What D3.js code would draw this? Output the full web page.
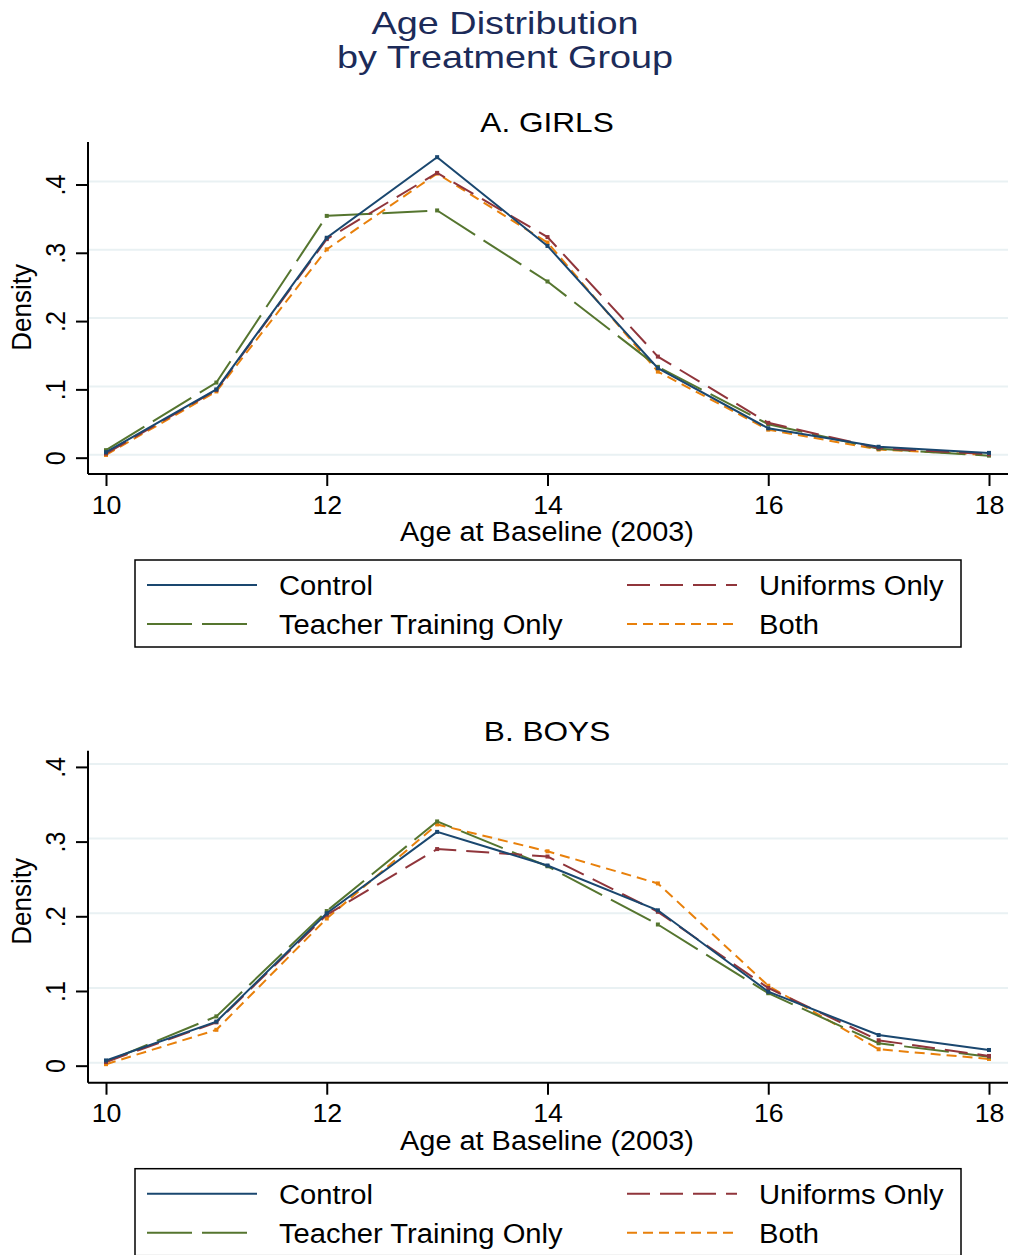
<!DOCTYPE html>
<html>
<head>
<meta charset='utf-8' />
<title>Age Distribution by Treatment Group</title>
<script src="https://d3js.org/d3.v7.min.js"></script>
<style>
body { margin: 0; padding: 0; background: #fff; }
#chart text { font-family: "Liberation Sans", Arial, Helvetica, sans-serif; fill: #000; }
</style>
</head>
<body>
<div id='chart'></div>
<script>

// ages on the x axis
var ages = [10, 11, 12, 13, 14, 15, 16, 17, 18];
var xTicks = [10, 12, 14, 16, 18];
var yTicks = [0, 0.1, 0.2, 0.3, 0.4];

var seriesNames = ["Control", "Uniforms Only", "Teacher Training Only", "Both"];

// panel A - girls
var girlsControl  = [0.008, 0.100, 0.322, 0.440, 0.310, 0.131, 0.043, 0.016, 0.007];
var girlsUniforms = [0.006, 0.099, 0.320, 0.417, 0.323, 0.148, 0.051, 0.014, 0.005];
var girlsTeacher  = [0.011, 0.110, 0.354, 0.362, 0.258, 0.133, 0.049, 0.013, 0.003];
var girlsBoth     = [0.004, 0.097, 0.305, 0.416, 0.315, 0.126, 0.041, 0.012, 0.004];

// panel B - boys
var boysControl  = [0.007, 0.059, 0.204, 0.313, 0.268, 0.208, 0.099, 0.041, 0.021];
var boysUniforms = [0.005, 0.058, 0.202, 0.290, 0.280, 0.206, 0.104, 0.034, 0.013];
var boysTeacher  = [0.005, 0.066, 0.207, 0.327, 0.267, 0.189, 0.097, 0.030, 0.012];
var boysBoth     = [0.002, 0.048, 0.197, 0.323, 0.287, 0.244, 0.107, 0.022, 0.009];

var W = 1011, H = 1255;

var svg = d3.select("#chart")
  .append("svg")
    .attr("width", W)
    .attr("height", H);

// stata s2color-ish styles
var styles = {
  "Control":               {color: "#1a476f", dash: null},
  "Uniforms Only":         {color: "#90353b", dash: "23,10"},
  "Teacher Training Only": {color: "#55752f", dash: "45,10"},
  "Both":                  {color: "#e8800b", dash: "10,6"}
};

// the original graph is a bit wider than tall, so text gets stretched sideways
function addText(parent, x, y, str, size, sx) {
  return parent.append("text")
    .attr("transform", "translate(" + x + "," + y + ") scale(" + sx + ",1)")
    .style("font-size", size + "px")
    .text(str);
}

//////////
// TITLE //
//////////

addText(svg, 505, 34, "Age Distribution", 31, 1.22)
  .attr("text-anchor", "middle")
  .style("fill", "#1c2b59");

addText(svg, 505, 68, "by Treatment Group", 31, 1.22)
  .attr("text-anchor", "middle")
  .style("fill", "#1c2b59");

//////////
// PANELS //
//////////

function drawPanel(top, title, yDomain, data) {

  var g = svg.append("g").attr("transform", "translate(0," + top + ")");

  // plot box: axis lines at x=88 and y=332 (relative)
  var left = 88, right = 1008, h = 332;

  var x = d3.scaleLinear().domain([10, 18]).range([106, 989]);
  var y = d3.scaleLinear().domain(yDomain).range([h, 0]);

  addText(g, 547, -10, title, 27, 1.17).attr("text-anchor", "middle");

  // gridlines (stata draws them a hair above the ticks)
  g.selectAll("grid")
    .data(yTicks)
    .enter()
    .append("line")
      .attr("x1", left + 1).attr("x2", right)
      .attr("y1", function(d) { return y(d) - 3; })
      .attr("y2", function(d) { return y(d) - 3; })
      .style("stroke", "#e9f1f3")
      .style("stroke-width", 2);

  // y axis
  var yAxis = g.append("g")
    .attr("transform", "translate(" + left + ",0)")
    .call(d3.axisLeft(y).tickValues(yTicks).tickSize(12).tickPadding(0)
      .tickFormat(function(d) { return d === 0 ? "0" : d3.format(".1f")(d).replace("0.", "."); }));
  yAxis.select(".domain").attr("d", "M0,0V" + h).style("stroke", "#000").style("stroke-width", 2);
  yAxis.selectAll(".tick line").style("stroke", "#000").style("stroke-width", 2);
  yAxis.selectAll(".tick text")
    .attr("x", 0).attr("y", 0)
    .attr("dy", null)
    .attr("text-anchor", "middle")
    .attr("transform", "translate(-23,0) scale(1.08,1) rotate(-90)")
    .style("font-size", "25px");

  g.append("text")
    .attr("transform", "translate(31," + y(0.22) + ") scale(1.08,1) rotate(-90)")
    .attr("text-anchor", "middle")
    .style("font-size", "26px")
    .text("Density");

  // x axis
  var xAxis = g.append("g")
    .attr("transform", "translate(0," + h + ")")
    .call(d3.axisBottom(x).tickValues(xTicks).tickSize(12).tickPadding(10).tickFormat(d3.format("d")));
  xAxis.select(".domain").attr("d", "M" + left + ",0H" + right).style("stroke", "#000").style("stroke-width", 2);
  xAxis.selectAll(".tick line").style("stroke", "#000").style("stroke-width", 2);
  xAxis.selectAll(".tick text")
    .attr("dy", "0.71em")
    .attr("transform", "scale(1.07,1)")
    .style("font-size", "25px");

  addText(g, 547, h + 67, "Age at Baseline (2003)", 27, 1.07).attr("text-anchor", "middle");

  // lines
  var line = d3.line()
    .x(function(d, i) { return x(ages[i]); })
    .y(function(d) { return y(d); });

  var order = ["Both", "Teacher Training Only", "Uniforms Only", "Control"];
  order.forEach(function(name) {
    var vals = data[name];
    var st = styles[name];
    g.append("path")
      .datum(vals)
      .attr("d", line)
      .style("fill", "none")
      .style("stroke", st.color)
      .style("stroke-width", 2)
      .style("stroke-dasharray", st.dash);
    g.selectAll("mk")
      .data(vals)
      .enter()
      .append("rect")
        .attr("x", function(d, i) { return x(ages[i]) - 2; })
        .attr("y", function(d) { return y(d) - 2; })
        .attr("width", 4).attr("height", 4)
        .style("fill", st.color);
  });

  //////////
  // LEGEND //
  //////////

  var lg = g.append("g").attr("transform", "translate(0," + (h + 86) + ")");
  lg.append("rect")
    .attr("x", 135).attr("y", 0)
    .attr("width", 826).attr("height", 87)
    .style("fill", "#fff")
    .style("stroke", "#000")
    .style("stroke-width", 1.5);

  var pos = {
    "Control":               [147, 25],
    "Uniforms Only":         [627, 25],
    "Teacher Training Only": [147, 64],
    "Both":                  [627, 64]
  };

  seriesNames.forEach(function(name) {
    var p = pos[name], st = styles[name];
    lg.append("line")
      .attr("x1", p[0]).attr("x2", p[0] + 110)
      .attr("y1", p[1]).attr("y2", p[1])
      .style("stroke", st.color)
      .style("stroke-width", 2)
      .style("stroke-dasharray", st.dash);
    addText(lg, p[0] + 132, p[1] + 10, name, 27, 1.08);
  });
}

drawPanel(142, "A. GIRLS", [-0.0239, 0.4622], {
  "Control": girlsControl,
  "Uniforms Only": girlsUniforms,
  "Teacher Training Only": girlsTeacher,
  "Both": girlsBoth
});

drawPanel(750.7, "B. BOYS", [-0.0228, 0.4217], {
  "Control": boysControl,
  "Uniforms Only": boysUniforms,
  "Teacher Training Only": boysTeacher,
  "Both": boysBoth
});

</script>
</body>
</html>
